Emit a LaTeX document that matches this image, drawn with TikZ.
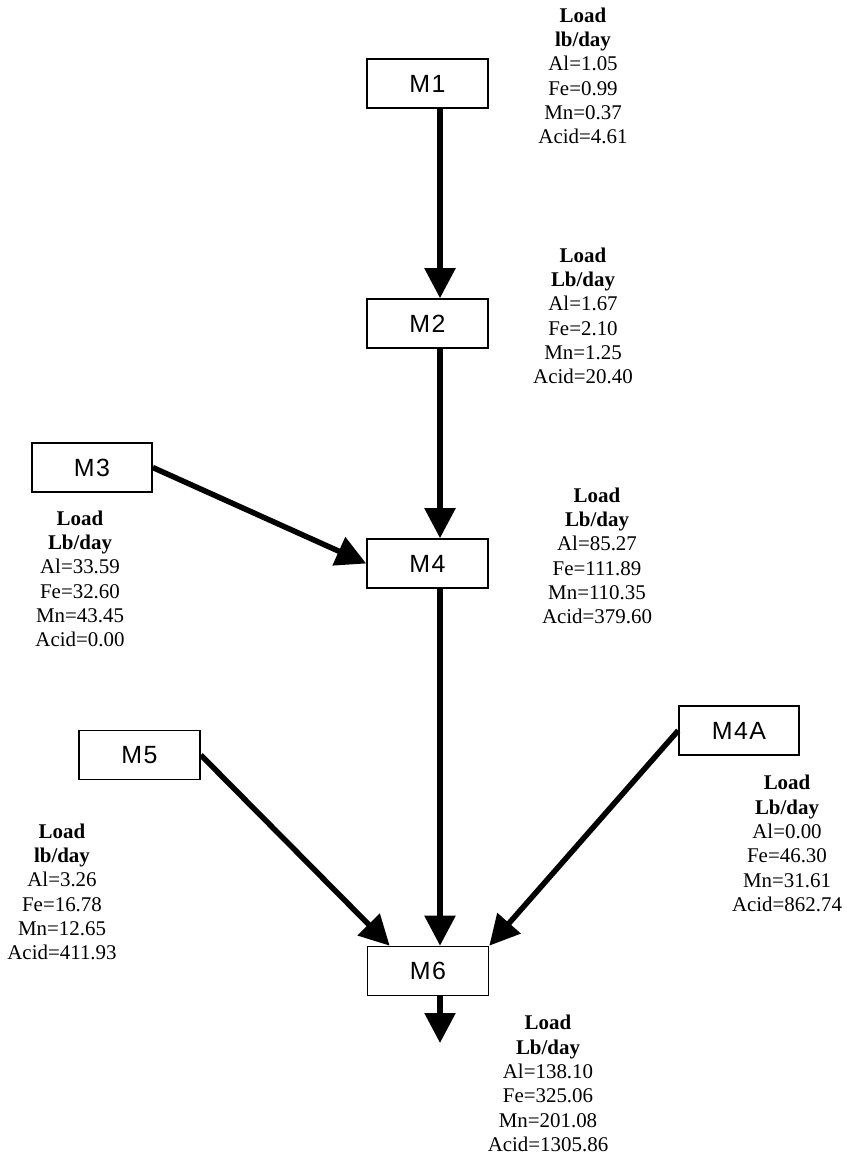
\documentclass[tikz,border=0pt]{standalone}
\usepackage{fontspec}
\setmainfont{Liberation Serif}
\newfontfamily\boxfont[LetterSpace=6]{Liberation Sans}
\usetikzlibrary{arrows.meta,calc}

\tikzset{
  stationbox/.style={draw, line width=1.6bp, minimum width=121bp, minimum height=49bp,
    inner sep=0pt, font=\boxfont\fontsize{25}{28}\selectfont},
  loadtext/.style={align=center, inner sep=0pt, font=\fontsize{21}{24.4}\selectfont},
  flowarrow/.style={line width=5.5bp, -{Triangle[length=30bp,width=30bp]}}
}

\begin{document}
\begin{tikzpicture}[x=1bp,y=-1bp]
		%%%%% START %%%%%
		\useasboundingbox (0,0) rectangle (847,1156);
		
		\node[stationbox] (M1) at (427.5, 83.5) {M1};
		\node[stationbox] (M2) at (427.5, 323.5) {M2};
		\node[stationbox, minimum width=120bp] (M3) at (92, 467.5) {M3};
		\node[stationbox] (M4) at (427.5, 563.5) {M4};
		\node[stationbox] (M5) at (139.5, 755) {M5};
		\node[stationbox, minimum width=120bp] (M4A) at (739, 730.5) {M4A};
		\node[stationbox] (M6) at (428, 971) {M6};
		
		% main line runs a bit right of the box centres
		\coordinate (spine) at (440, 0);
		\coordinate (outlet) at (440, 1043);
		
		\draw[flowarrow] (M1.south -| spine) -- (M2.north -| spine);
		\draw[flowarrow] (M2.south -| spine) -- (M4.north -| spine);
		\draw[flowarrow] (M3.east) -- (M4.west);
		\draw[flowarrow] (M4.south -| spine) -- (M6.north -| spine);
		\draw[flowarrow] (M5.east) -- ([xshift=23bp]M6.north west);
		\draw[flowarrow] (M4A.west) -- (M6.north east);
		\draw[flowarrow] (M6.south -| spine) -- (outlet);
		
		\node[loadtext] (L1) at (583, 76) {\textbf{Load}\\\textbf{lb/day}\\Al=1.05\\Fe=0.99\\Mn=0.37\\Acid=4.61};
		\node[loadtext] (L2) at (583, 316) {\textbf{Load}\\\textbf{Lb/day}\\Al=1.67\\Fe=2.10\\Mn=1.25\\Acid=20.40};
		\node[loadtext] (L3) at (80, 579) {\textbf{Load}\\\textbf{Lb/day}\\Al=33.59\\Fe=32.60\\Mn=43.45\\Acid=0.00};
		\node[loadtext] (L4) at (597, 556) {\textbf{Load}\\\textbf{Lb/day}\\Al=85.27\\Fe=111.89\\Mn=110.35\\Acid=379.60};
		\node[loadtext] (L5) at (62, 892) {\textbf{Load}\\\textbf{lb/day}\\Al=3.26\\Fe=16.78\\Mn=12.65\\Acid=411.93};
		\node[loadtext] (L4A) at (787, 843.5) {\textbf{Load}\\\textbf{Lb/day}\\Al=0.00\\Fe=46.30\\Mn=31.61\\Acid=862.74};
		\node[loadtext] (L6) at (548, 1083.5) {\textbf{Load}\\\textbf{Lb/day}\\Al=138.10\\Fe=325.06\\Mn=201.08\\Acid=1305.86};
		%%%%% END %%%%%
\end{tikzpicture}
\end{document}
